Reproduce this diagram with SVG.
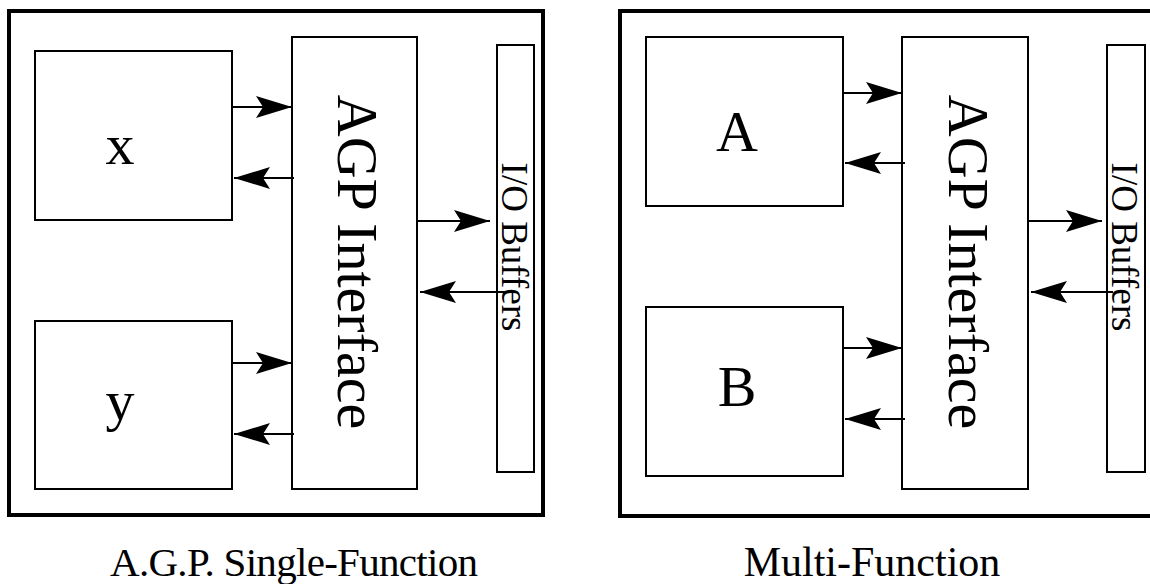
<svg xmlns="http://www.w3.org/2000/svg" width="1150" height="584" viewBox="0 0 1150 584">
<style>
.frame{fill:none;stroke:#000;stroke-width:4}
.box{fill:#fff;stroke:#000;stroke-width:2}
.lbl{font-family:"Liberation Serif","Times New Roman",serif;fill:#000}
.conn line{stroke:#000;stroke-width:2;marker-end:url(#ah)}
</style>
<defs>
<marker id="ah" markerUnits="userSpaceOnUse" viewBox="-37 -12 38 24" refX="0" refY="0" markerWidth="38" markerHeight="24" orient="auto">
<path d="M0,0 L-36,-11 L-29,0 L-36,11 Z" fill="#000"/>
</marker>
</defs>
<rect width="1150" height="584" fill="#fff"/>
<g id="panel-left">
<rect class="frame" x="9" y="11" width="534" height="504"/>
</g>
<g id="panel-right">
<rect class="frame" x="620" y="11" width="532" height="505"/>
</g>
<g id="node-x">
<rect class="box" x="35" y="51" width="197" height="169"/>
<text class="lbl" x="120" y="164" font-size="58" text-anchor="middle">x</text>
</g>
<g id="node-y">
<rect class="box" x="35" y="321" width="197" height="168"/>
<text class="lbl" x="120" y="420" font-size="58" text-anchor="middle">y</text>
</g>
<g id="node-agp-left">
<rect class="box" x="292" y="37" width="125" height="452"/>
<text class="lbl" font-size="58" text-anchor="middle" transform="translate(338,262) rotate(90)">AGP Interface</text>
</g>
<g id="node-io-left">
<rect class="box" x="497" y="45" width="37" height="427"/>
<text class="lbl" font-size="37" text-anchor="middle" transform="translate(502,247) rotate(90)">I/O Buffers</text>
</g>
<g id="node-a">
<rect class="box" x="646" y="37" width="197" height="169"/>
<text class="lbl" x="737" y="151" font-size="58" text-anchor="middle">A</text>
</g>
<g id="node-b">
<rect class="box" x="646" y="307" width="197" height="169"/>
<text class="lbl" x="737" y="406" font-size="58" text-anchor="middle">B</text>
</g>
<g id="node-agp-right">
<rect class="box" x="902" y="37" width="126" height="452"/>
<text class="lbl" font-size="58" text-anchor="middle" transform="translate(949,262) rotate(90)">AGP Interface</text>
</g>
<g id="node-io-right">
<rect class="box" x="1107" y="45" width="38" height="427"/>
<text class="lbl" font-size="37" text-anchor="middle" transform="translate(1112,247) rotate(90)">I/O Buffers</text>
</g>
<g id="connectors" class="conn">
<line x1="232" y1="107" x2="292" y2="107"/>
<line x1="294" y1="178" x2="234" y2="178"/>
<line x1="232" y1="363" x2="292" y2="363"/>
<line x1="294" y1="434" x2="234" y2="434"/>
<line x1="417" y1="221" x2="490" y2="221"/>
<line x1="505" y1="292" x2="420" y2="292"/>
<line x1="843" y1="93" x2="902" y2="93"/>
<line x1="905" y1="163" x2="845" y2="163"/>
<line x1="843" y1="348" x2="902" y2="348"/>
<line x1="905" y1="419" x2="845" y2="419"/>
<line x1="1028" y1="221" x2="1102" y2="221"/>
<line x1="1113" y1="292" x2="1031" y2="292"/>
</g>
<g id="captions">
<text class="lbl" x="294" y="576" font-size="41" text-anchor="middle" textLength="368" lengthAdjust="spacing">A.G.P. Single-Function</text>
<text class="lbl" x="872" y="576" font-size="42" text-anchor="middle">Multi-Function</text>
</g>
</svg>
